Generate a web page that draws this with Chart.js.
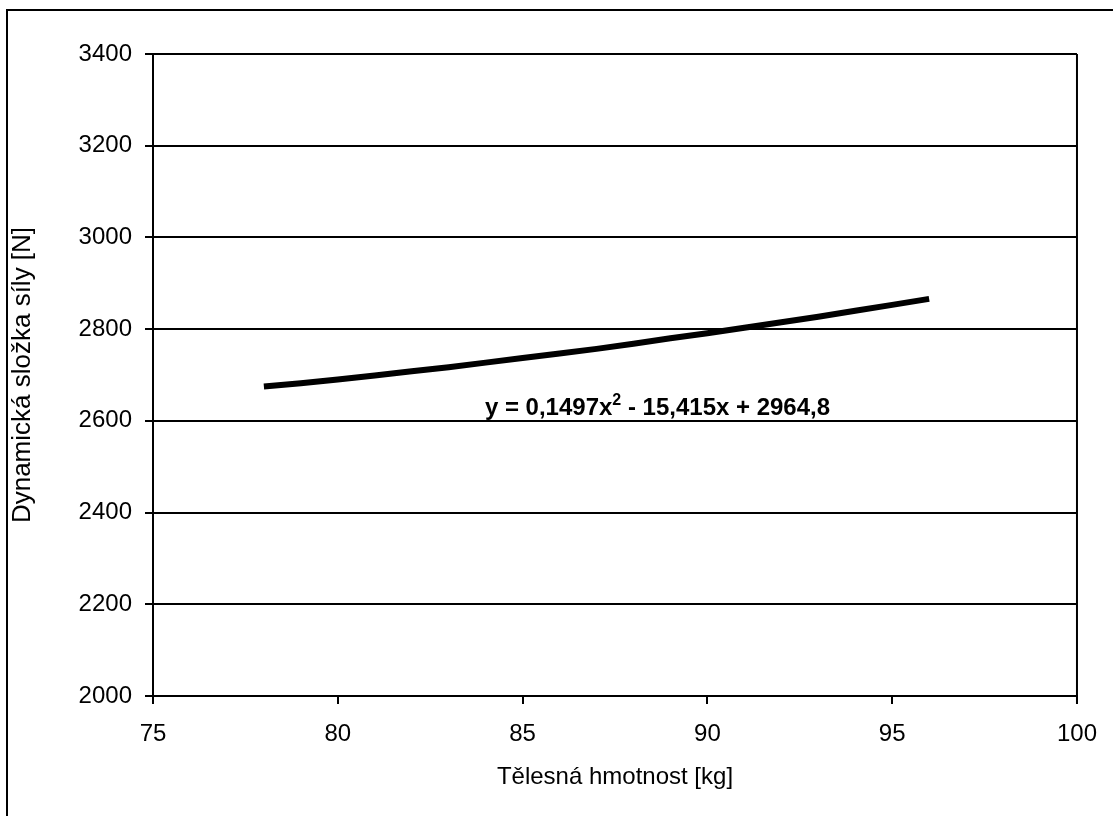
<!DOCTYPE html>
<html>
<head>
  <meta charset="utf-8">
  <style>
    body { margin: 0; background: #ffffff; }
    #chart-container { width: 1113px; height: 816px; position: relative; }
  </style>
  <script src="https://cdn.jsdelivr.net/npm/chart.js@4.4.1/dist/chart.umd.min.js"></script>
</head>
<body>
<div id="chart-container">
  <canvas id="chart"></canvas>
</div>
<script>
// body weight [kg] and dynamic force component [N]
const weights = [78, 79, 80, 81, 82, 83, 84, 85, 86, 87, 88, 89, 90, 91, 92, 93, 94, 95, 96];
const forces = [2675, 2682, 2690, 2699, 2708, 2717, 2727, 2737, 2747, 2757, 2768, 2780, 2791, 2803, 2815, 2827, 2840, 2853, 2866];

const xTicks = [75, 80, 85, 90, 95, 100];
const yTicks = [2000, 2200, 2400, 2600, 2800, 3000, 3200, 3400];

const xTitle = "Tělesná hmotnost [kg]";
const yTitle = "Dynamická složka síly [N]";

// trendline equation, split around the superscript
const eqLeft = "y = 0,1497x";
const eqSup = "2";
const eqRight = " - 15,415x + 2964,8";
const eqAnchor = { x: 83.98, y: 2613 };

const FONT = "'Liberation Sans', Arial, sans-serif";

var points = [];
for (var i = 0; i < weights.length; i++) {
  points.push({ x: weights[i], y: forces[i] });
}

// outer frame + right edge of the plot area
const framePlugin = {
  id: "frame",
  afterDraw(chart) {
    const ctx = chart.ctx;
    const a = chart.chartArea;
    ctx.save();
    ctx.strokeStyle = "#000";
    ctx.lineWidth = 2;
    ctx.strokeRect(7, 10, 1130, 830);
    ctx.beginPath();
    ctx.moveTo(a.right, a.top);
    ctx.lineTo(a.right, a.bottom + 8);
    ctx.stroke();
    ctx.restore();
  }
};

// equation label for the fitted curve
const equationPlugin = {
  id: "equation",
  afterDatasetsDraw(chart) {
    const ctx = chart.ctx;
    const x0 = chart.scales.x.getPixelForValue(eqAnchor.x);
    const y0 = chart.scales.y.getPixelForValue(eqAnchor.y);
    ctx.save();
    ctx.fillStyle = "#000";
    ctx.textBaseline = "alphabetic";
    ctx.textAlign = "left";
    ctx.font = "bold 24px " + FONT;
    ctx.fillText(eqLeft, x0, y0);
    var x = x0 + ctx.measureText(eqLeft).width;
    ctx.font = "bold 16px " + FONT;
    ctx.fillText(eqSup, x, y0 - 10);
    x += ctx.measureText(eqSup).width;
    ctx.font = "bold 24px " + FONT;
    ctx.fillText(eqRight, x, y0);
    ctx.restore();
  }
};

const ctx = document.getElementById("chart").getContext("2d");

new Chart(ctx, {
  type: "line",
  data: {
    datasets: [
      {
        label: "F",
        data: points,
        borderColor: "#000",
        backgroundColor: "#000",
        borderWidth: 6,
        borderCapStyle: "butt",
        pointRadius: 0,
        tension: 0,
        fill: false
      }
    ]
  },
  options: {
    responsive: true,
    maintainAspectRatio: false,
    devicePixelRatio: 1,
    animation: false,
    layout: { padding: { top: 54, right: 36, left: 0, bottom: 0 } },
    plugins: {
      legend: { display: false },
      tooltip: { enabled: false }
    },
    scales: {
      x: {
        type: "linear",
        min: 75,
        max: 100,
        afterBuildTicks: (s) => { s.ticks = xTicks.map(v => ({ value: v })); },
        afterFit: (s) => { s.height = 120; },
        ticks: {
          color: "#000",
          font: { family: FONT, size: 24 },
          padding: 16,
          maxRotation: 0,
          callback: (v) => String(v)
        },
        grid: {
          drawOnChartArea: false,
          drawTicks: true,
          tickLength: 8,
          color: "#000",
          lineWidth: 2
        },
        border: { display: true, color: "#000", width: 2 },
        title: {
          display: true,
          text: xTitle,
          color: "#000",
          font: { family: FONT, size: 24 },
          padding: { top: 0, bottom: 24 }
        }
      },
      y: {
        type: "linear",
        min: 2000,
        max: 3400,
        afterBuildTicks: (s) => { s.ticks = yTicks.map(v => ({ value: v })); },
        afterFit: (s) => { s.width = 153; },
        ticks: {
          color: "#000",
          font: { family: FONT, size: 24 },
          padding: 13,
          callback: (v) => String(v)
        },
        grid: {
          drawOnChartArea: true,
          drawTicks: true,
          tickLength: 8,
          color: "#000",
          lineWidth: 2
        },
        border: { display: true, color: "#000", width: 2 },
        title: {
          display: true,
          text: yTitle,
          color: "#000",
          font: { family: FONT, size: 26 },
          padding: { top: 7, bottom: 0 }
        }
      }
    }
  },
  plugins: [framePlugin, equationPlugin]
});
</script>
</body>
</html>
